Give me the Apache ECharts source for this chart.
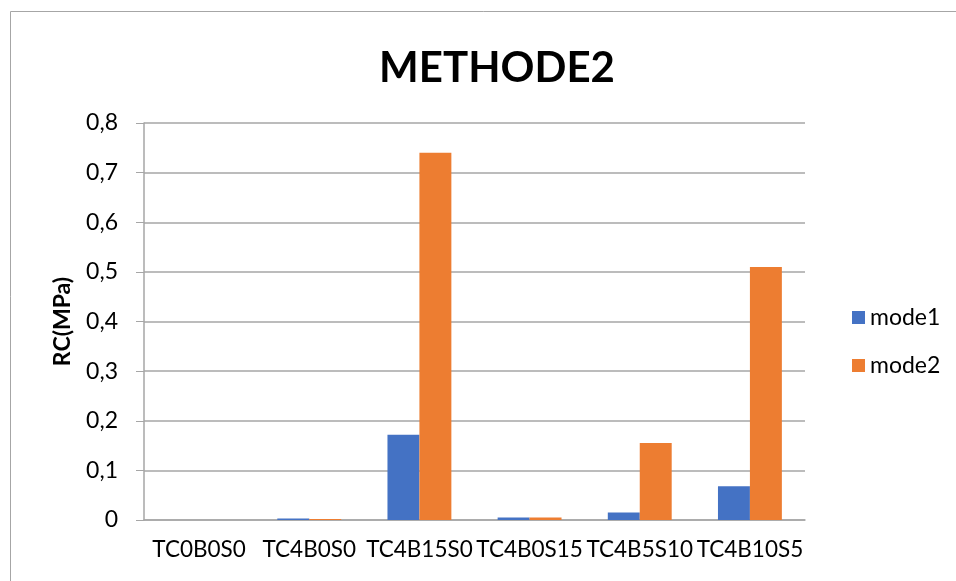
<!DOCTYPE html>
<html>
<head>
<meta charset="utf-8">
<script src="https://cdn.jsdelivr.net/npm/echarts@6/dist/echarts.min.js"></script>
<style>
  html, body { margin: 0; padding: 0; background: #fff; }
  #chart { width: 956px; height: 581px; }
</style>
</head>
<body>
<div id="chart"></div>
<script>
// Compressive strength per mix, two loading modes
const categories = ['TC0B0S0', 'TC4B0S0', 'TC4B15S0', 'TC4B0S15', 'TC4B5S10', 'TC4B10S5'];
const mode1 = [0, 0.003, 0.172, 0.005, 0.015, 0.068];
const mode2 = [0, 0.002, 0.74, 0.005, 0.155, 0.51];
const seriesNames = ['mode1', 'mode2'];
const yTicks = [0, 0.1, 0.2, 0.3, 0.4, 0.5, 0.6, 0.7, 0.8];

const FONT = 'Lato';
const chart = echarts.init(document.getElementById('chart'), null, { renderer: 'canvas' });

chart.setOption({
  animation: false,
  backgroundColor: '#ffffff',
  title: {
    text: 'METHODE2',
    left: 492,
    top: 42,
    textAlign: 'center',
    textStyle: { fontFamily: FONT, fontSize: 42, fontWeight: 'bold', color: '#000' }
  },
  graphic: [{
    type: 'rect',
    shape: { x: 10.5, y: 11.5, width: 1200, height: 1200 },
    style: { fill: 'none', stroke: '#a6a6a6', lineWidth: 1 },
    silent: true
  }],
  legend: {
    orient: 'vertical',
    left: 847,
    top: 301,
    itemWidth: 13,
    itemHeight: 13,
    itemGap: 25,
    icon: 'rect',
    data: seriesNames,
    textStyle: { fontFamily: FONT, fontSize: 23, color: '#000', padding: [0, 0, 0, 0] }
  },
  grid: { left: 144, right: 151, top: 123, bottom: 61, containLabel: false },
  xAxis: {
    type: 'category',
    data: categories,
    axisLine: { show: true, lineStyle: { color: '#a6a6a6', width: 1.5 } },
    axisTick: { show: false },
    axisLabel: {
      fontFamily: FONT, fontSize: 22.5, color: '#000', margin: 18, interval: 0
    }
  },
  yAxis: {
    type: 'value',
    min: 0,
    max: 0.8,
    interval: 0.1,
    name: 'RC(MPa)',
    nameLocation: 'middle',
    nameGap: 70,
    nameRotate: 90,
    nameTextStyle: { fontFamily: FONT, fontSize: 23, fontWeight: 'bold', color: '#000' },
    axisLine: { show: true, lineStyle: { color: '#a6a6a6', width: 1.5 } },
    axisTick: { show: true, length: 8, lineStyle: { color: '#a6a6a6' } },
    splitLine: { show: true, lineStyle: { color: '#a6a6a6', width: 1.5 } },
    axisLabel: {
      fontFamily: FONT, fontSize: 23, color: '#000', margin: 26,
      formatter: function (v) {
        const t = yTicks.find(function (k) { return Math.abs(k - v) < 1e-9; });
        if (t === undefined) return '';
        return t === 0 ? '0' : t.toFixed(1).replace('.', ',');
      }
    }
  },
  series: [
    {
      name: seriesNames[0],
      type: 'bar',
      data: mode1,
      barGap: '0%',
      barCategoryGap: '42%',
      itemStyle: { color: '#4472c4' }
    },
    {
      name: seriesNames[1],
      type: 'bar',
      data: mode2,
      barGap: '0%',
      barCategoryGap: '42%',
      itemStyle: { color: '#ed7d31' }
    }
  ]
});
</script>
</body>
</html>
